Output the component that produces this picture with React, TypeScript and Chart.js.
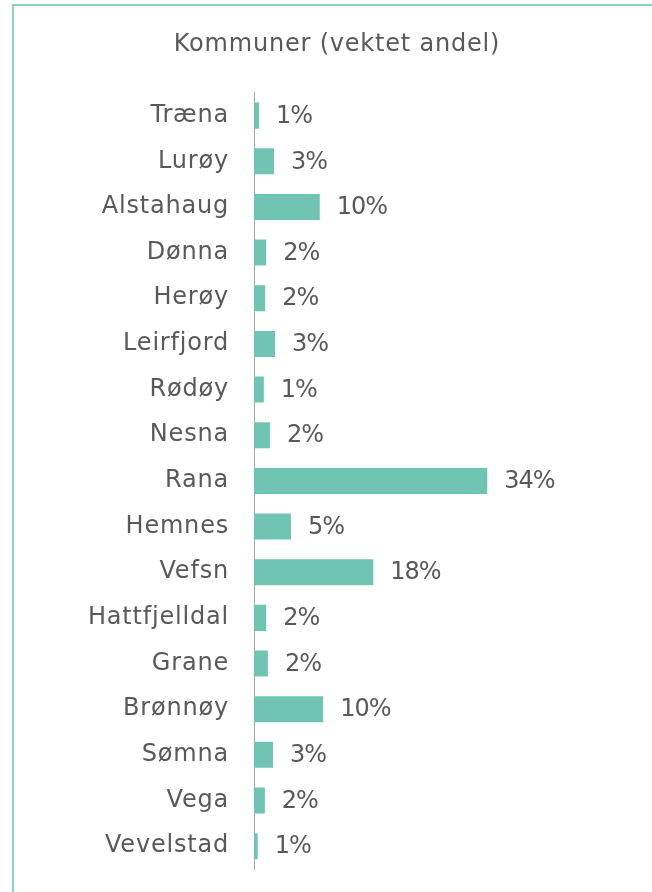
import React, { useEffect, useRef } from "react";
import { Chart, registerables } from "chart.js";

Chart.register(...registerables);

const TITLE = "Kommuner (vektet andel)";
const categories = [
  "Træna", "Lurøy", "Alstahaug", "Dønna", "Herøy", "Leirfjord", "Rødøy", "Nesna",
  "Rana", "Hemnes", "Vefsn", "Hattfjelldal", "Grane", "Brønnøy", "Sømna", "Vega", "Vevelstad",
];
const values = [0.74, 2.95, 9.7, 1.8, 1.65, 3.1, 1.45, 2.35, 34.4, 5.45, 17.6, 1.8, 2.05, 10.2, 2.8, 1.6, 0.55];

const FONT = "'DejaVu Sans', sans-serif";
const TEXT = "#595959";
const BAR = "#70C4B3";

const frame = {
  id: "frame",
  beforeDraw(chart: any) {
    const ctx = chart.ctx;
    ctx.save();
    ctx.fillStyle = "#ffffff";
    ctx.fillRect(0, 0, chart.width, chart.height);
    ctx.fillStyle = "#8CD0C1";
    ctx.fillRect(12, 4, 2, chart.height - 4);
    ctx.fillRect(12, 4, chart.width - 12, 2);
    ctx.restore();
    // slightly wider tracking to approximate the original geometric typeface
    ctx.letterSpacing = "0.8px";
  },
};

const valueLabels = {
  id: "valueLabels",
  afterDatasetsDraw(chart: any) {
    const ctx = chart.ctx;
    const meta = chart.getDatasetMeta(0);
    ctx.save();
    ctx.letterSpacing = "-1px";
    ctx.font = `24px ${FONT}`;
    ctx.fillStyle = TEXT;
    ctx.textAlign = "left";
    ctx.textBaseline = "middle";
    meta.data.forEach((bar: any, i: number) => {
      ctx.fillText(Math.round(values[i]) + "%", bar.x + 17, bar.y + 1);
    });
    ctx.restore();
  },
};

export default function App() {
  const ref = useRef<HTMLCanvasElement>(null);
  useEffect(() => {
    document.body.style.margin = "0";
    const chart = new Chart(ref.current!, {
      type: "bar",
      data: {
        labels: categories,
        datasets: [
          {
            data: values,
            backgroundColor: BAR,
            borderWidth: 0,
            barPercentage: 0.57,
            categoryPercentage: 1,
          },
        ],
      },
      options: {
        indexAxis: "y",
        responsive: false,
        animation: false,
        layout: { padding: { left: 81, right: 59, top: 0, bottom: 23 } },
        plugins: {
          legend: { display: false },
          tooltip: { enabled: false },
          title: {
            display: true,
            text: TITLE,
            color: TEXT,
            font: { family: FONT, size: 24, weight: "normal", lineHeight: 1.2 },
            padding: { top: 30, bottom: 34 },
          },
        },
        scales: {
          x: { display: false, min: 0, max: 50 },
          y: {
            afterFit(scale: any) {
              scale.width = 173;
              scale.paddingTop = 0;
              scale.paddingBottom = 0;
            },
            grid: { display: false, drawTicks: false },
            border: { display: true, color: "#A6A6A6", width: 1 },
            ticks: {
              color: TEXT,
              padding: 25,
              font: { family: FONT, size: 24 },
            },
          },
        },
      },
      plugins: [frame, valueLabels],
    });
    return () => chart.destroy();
  }, []);
  return <canvas ref={ref} width={652} height={892} style={{ display: "block" }} />;
}
